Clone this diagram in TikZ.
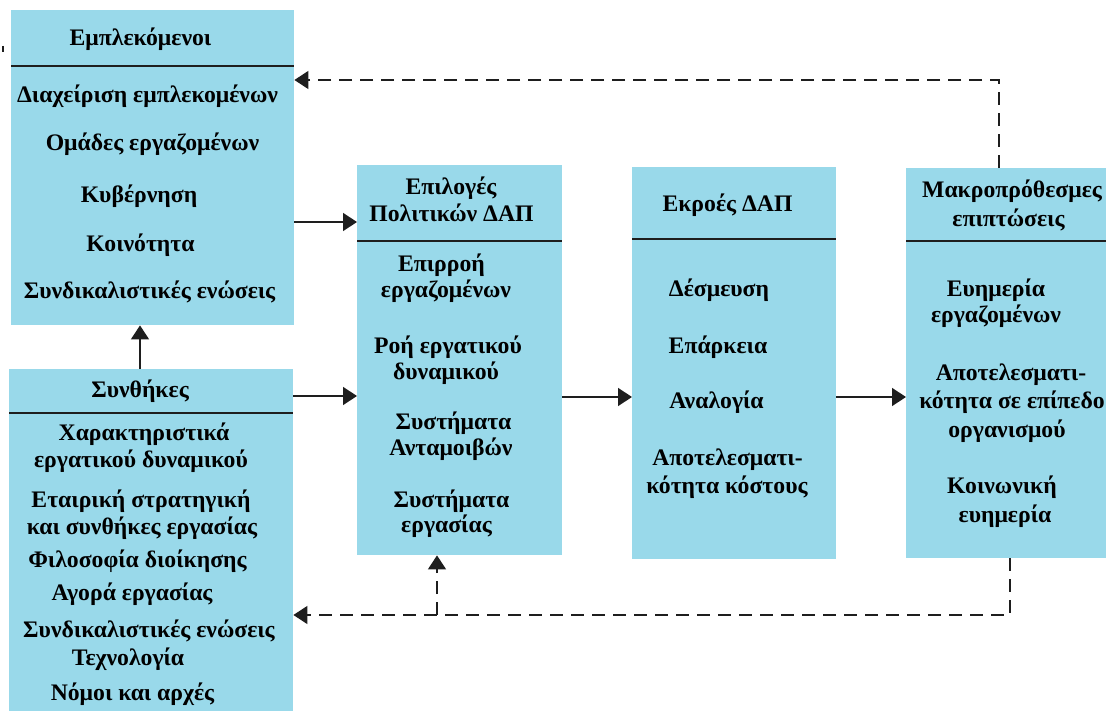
\documentclass[tikz,border=0pt]{standalone}
\usepackage{fontspec}
\setmainfont{Liberation Serif}
\usetikzlibrary{arrows.meta}
\definecolor{boxblue}{RGB}{153,217,234}
\definecolor{inkgray}{RGB}{30,30,30}
\begin{document}
\begin{tikzpicture}[x=1pt,y=-1pt,
  box/.style={rectangle,fill=boxblue,draw=none,anchor=north west,inner sep=0pt},
  txt/.style={anchor=base,inner sep=0pt,font=\fontsize{23.7}{28}\selectfont\bfseries,text=black},
  divline/.style={line width=1.5pt,draw=inkgray},
  arr/.style={line width=1.4pt,draw=inkgray,-{Triangle[length=14pt,width=18pt]}},
  dasharr/.style={line width=1.4pt,draw=inkgray,dash pattern=on 13pt off 8pt,-{Triangle[length=14pt,width=18pt]}}]
\useasboundingbox (0,0) rectangle (1106,711);

% boxes
\node[box,minimum width=283pt,minimum height=315pt] (b1) at (11,10) {};
\node[box,minimum width=284pt,minimum height=342pt] (b2) at (9,369) {};
\node[box,minimum width=205pt,minimum height=390pt] (b3) at (357,165) {};
\node[box,minimum width=204pt,minimum height=392pt] (b4) at (632,167) {};
\node[box,minimum width=200pt,minimum height=390pt] (b5) at (906,168) {};

% header dividers
\draw[divline] (b1.west |- 0,66) -- (b1.east |- 0,66);
\draw[divline] (b2.west |- 0,413) -- (b2.east |- 0,413);
\draw[divline] (b3.west |- 0,241) -- (b3.east |- 0,241);
\draw[divline] (b4.west |- 0,239) -- (b4.east |- 0,239);
\draw[divline] (b5.west |- 0,241) -- (b5.east |- 0,241);

% stakeholders
\node[txt] (b1h) at (140.5,46) {Εμπλεκόμενοι};
\node[txt] (b1a) at (147.5,103) {Διαχείριση εμπλεκομένων};
\node[txt] (b1b) at (152.5,151) {Ομάδες εργαζομένων};
\node[txt] (b1c) at (139,203) {Κυβέρνηση};
\node[txt] (b1d) at (140.5,252) {Κοινότητα};
\node[txt] (b1e) at (149.5,299) {Συνδικαλιστικές ενώσεις};

% situational factors
\node[txt] (b2h) at (140,397) {Συνθήκες};
\node[txt] (b2a) at (144,440) {Χαρακτηριστικά};
\node[txt] (b2b) at (141,467) {εργατικού δυναμικού};
\node[txt] (b2c) at (141,507) {Εταιρική στρατηγική};
\node[txt] (b2d) at (142,534) {και συνθήκες εργασίας};
\node[txt] (b2e) at (137.5,567) {Φιλοσοφία διοίκησης};
\node[txt] (b2f) at (132,600) {Αγορά εργασίας};
\node[txt] (b2g) at (149,637) {Συνδικαλιστικές ενώσεις};
\node[txt] (b2i) at (128,665) {Τεχνολογία};
\node[txt] (b2j) at (132.5,700) {Νόμοι και αρχές};

% HRM policy choices
\node[txt] (b3h1) at (451,195) {Επιλογές};
\node[txt] (b3h2) at (451.5,222) {Πολιτικών ΔΑΠ};
\node[txt] (b3a) at (441.5,272) {Επιρροή};
\node[txt] (b3b) at (446,298) {εργαζομένων};
\node[txt] (b3c) at (448,353) {Ροή εργατικού};
\node[txt] (b3d) at (446,380) {δυναμικού};
\node[txt] (b3e) at (453.5,429) {Συστήματα};
\node[txt] (b3f) at (451,455) {Ανταμοιβών};
\node[txt] (b3g) at (451.5,507) {Συστήματα};
\node[txt] (b3i) at (446.5,532) {εργασίας};

% HRM outcomes
\node[txt] (b4h) at (727.5,212) {Εκροές ΔΑΠ};
\node[txt] (b4a) at (719,297) {Δέσμευση};
\node[txt] (b4b) at (718,353) {Επάρκεια};
\node[txt] (b4c) at (716.5,408) {Αναλογία};
\node[txt] (b4d) at (727.5,465) {Αποτελεσματι-};
\node[txt] (b4e) at (727,493) {κότητα κόστους};

% long-term consequences
\node[txt] (b5h1) at (1012,198) {Μακροπρόθεσμες};
\node[txt] (b5h2) at (1008.5,227) {επιπτώσεις};
\node[txt] (b5a) at (996,297) {Ευημερία};
\node[txt] (b5b) at (996,323) {εργαζομένων};
\node[txt] (b5c) at (1011,381) {Αποτελεσματι-};
\node[txt] (b5d) at (1012,408) {κότητα σε επίπεδο};
\node[txt] (b5e) at (1007,437) {οργανισμού};
\node[txt] (b5f) at (1002,493) {Κοινωνική};
\node[txt] (b5g) at (1005,522) {ευημερία};

% forward flow
\draw[arr] (b1.east |- 0,222) -- (b3.west |- 0,222);
\draw[arr] (b2.north -| 140,0) -- (b1.south -| 140,0);
\draw[arr] (b2.east |- 0,396) -- (b3.west |- 0,396);
\draw[arr] (b3.east |- 0,397) -- (b4.west |- 0,397);
\draw[arr] (b4.east |- 0,397) -- (b5.west |- 0,397);

% feedback loops
\draw[dasharr] (b5.north -| 999,0) |- (b1.east |- 0,80);
\draw[dasharr] (b5.south -| 1010,0) |- (b2.east |- 0,615);
\coordinate (fb) at (437,615);
\draw[dasharr] (fb) -- (b3.south -| fb);

% stray mark at the top left
\draw[line width=1.5pt,draw=inkgray] (3,46) -- (3,52);
\end{tikzpicture}
\end{document}
